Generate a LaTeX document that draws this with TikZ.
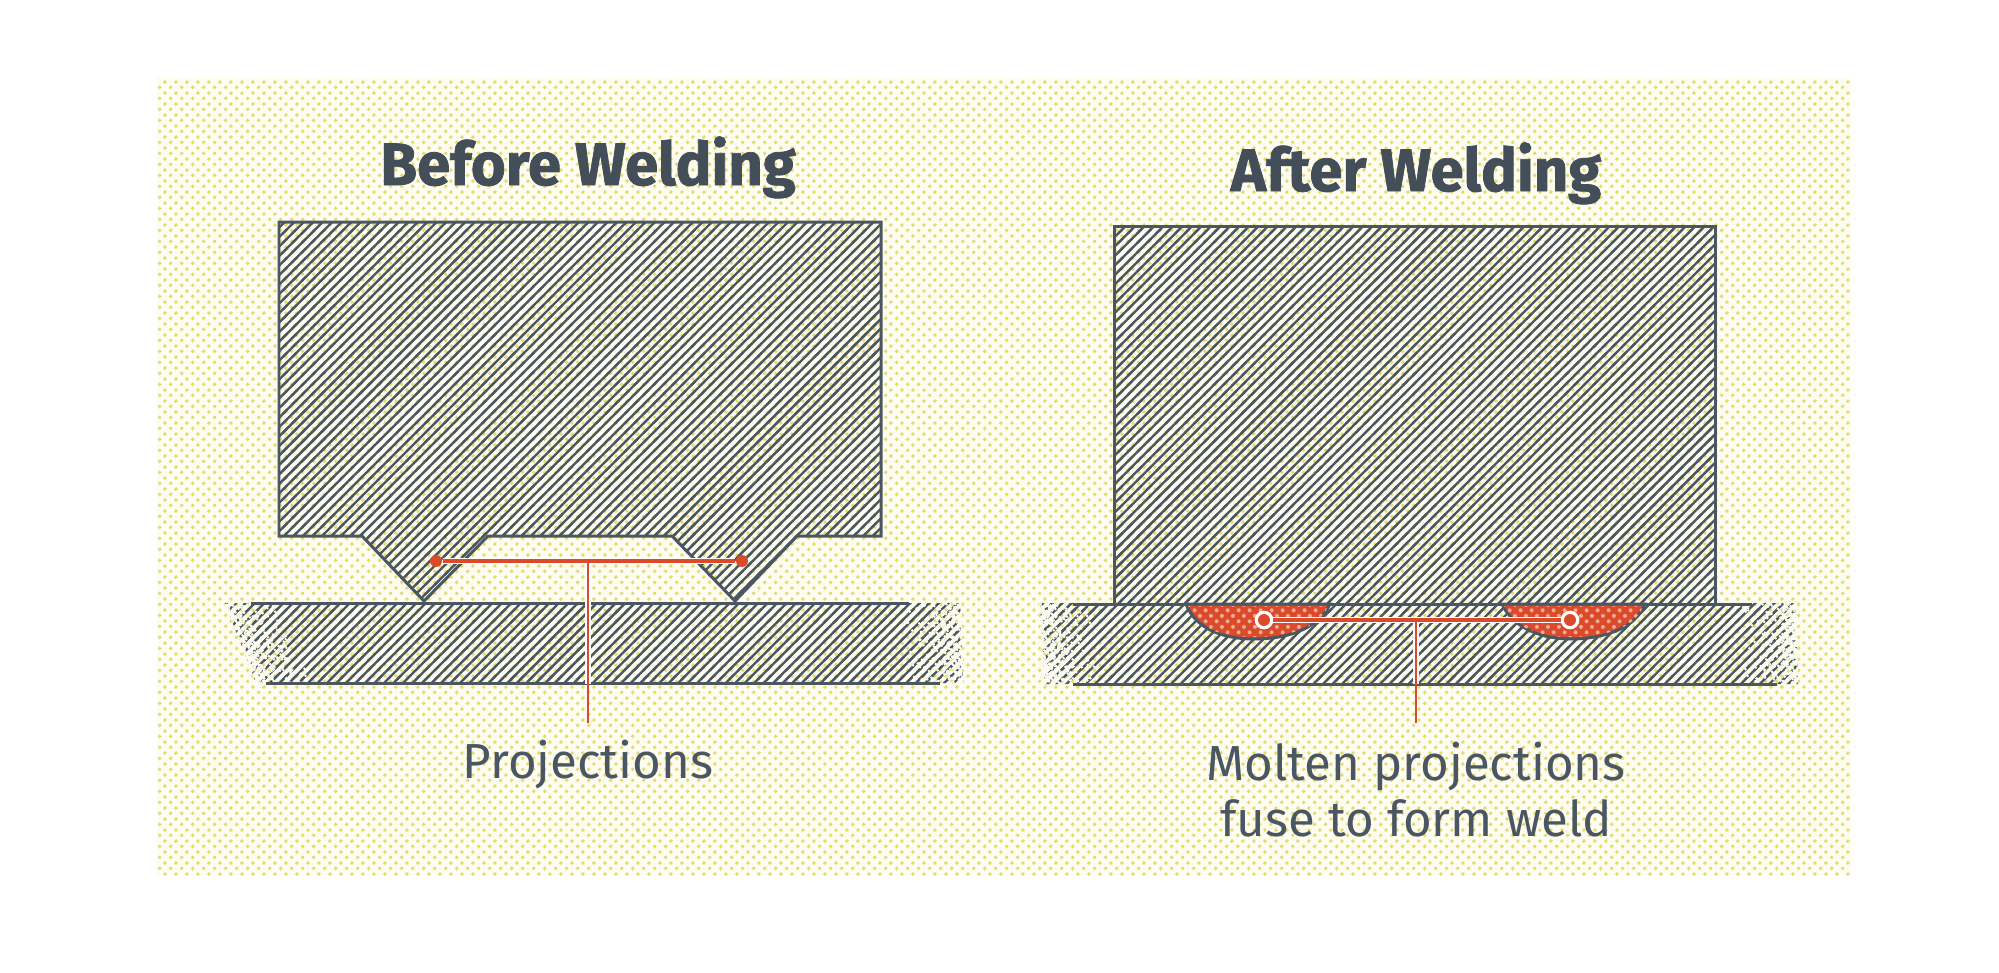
\documentclass[tikz,border=0pt]{standalone}
\usepackage{xcolor}
\usepackage{fontspec}
\setmainfont{Fira Sans}[BoldFeatures={FakeBold=1.3}]
\usetikzlibrary{patterns}
\definecolor{wdink}  {HTML}{4A5763}
\definecolor{wdpale} {HTML}{FDFCF0}
\definecolor{wdspot} {HTML}{E6D96E}
\definecolor{wdred}  {HTML}{DB4A2A}
\pgfdeclarepatternformonly{wdhatch}{\pgfqpoint{-1pt}{-1pt}}{\pgfqpoint{3.7pt}{3.7pt}}{\pgfqpoint{2.7pt}{2.7pt}}{
  \pgfsetlinewidth{0.66pt}
  \pgfpathmoveto{\pgfqpoint{-0.65pt}{-0.65pt}}
  \pgfpathlineto{\pgfqpoint{3.35pt}{3.35pt}}
  \pgfusepath{stroke}
}
\pgfdeclarepatternformonly{wddots}{\pgfqpoint{0pt}{0pt}}{\pgfqpoint{3.2pt}{3.2pt}}{\pgfqpoint{3.2pt}{3.2pt}}{
  \pgfpathcircle{\pgfqpoint{0.8pt}{0.8pt}}{0.6pt}
  \pgfpathcircle{\pgfqpoint{2.4pt}{2.4pt}}{0.6pt}
  \pgfusepath{fill}
}
\newcommand{\wdfade}[3]{% top x, bottom x, direction
  \foreach \i in {1,...,420}{
    \pgfmathsetmacro{\wdy}{603+80*rnd}
    \pgfmathsetmacro{\wdx}{#1+(#2-#1)*(\wdy-603)/80+#3*56*rnd*rnd}
    \fill[wdpale] (\wdx,\wdy) circle[radius=1.4];
  }
}
\begin{document}
\begin{tikzpicture}[
  x=0.01cm, y=-0.01cm,
  titletext/.style={font=\fontsize{17}{20}\selectfont\bfseries, text=wdink!90!black, anchor=base},
  labeltext/.style={font=\fontsize{14}{15.9}\selectfont, text=wdink, anchor=base},
  metal/.style={fill=wdpale, pattern=wdhatch, pattern color=wdink},
  edge/.style={draw=wdink, line width=0.85pt, line join=miter},
  halo/.style={draw=white, line width=1.9pt},
  hleader/.style={draw=wdred, line width=0.95pt},
  vleader/.style={draw=wdred, line width=0.72pt},
  soliddot/.style={circle, fill=wdred, inner sep=0pt, minimum size=3.4pt},
  ringdot/.style={circle, fill=wdred, draw=white, line width=0.9pt, inner sep=0pt, minimum size=4.4pt},
]
\useasboundingbox (0,0) rectangle (1999,972);
\fill[wdpale] (157,78) rectangle (1851,875);
\fill[pattern=wddots, pattern color=wdspot] (157,78) rectangle (1851,875);
\pgfmathsetseed{17}

% before welding
\fill[metal] (225,603) -- (960,603) -- (963,683) -- (256,683) -- cycle;
\wdfade{225}{256}{1}
\wdfade{960}{963}{-1}
\draw[edge] (251,603) -- (909,603);
\draw[edge] (266,683) -- (940,683);
\fill[metal] (279,222) -- (881,222) -- (881,536) -- (797,536) -- (735,600) -- (672,536)
  -- (488,536) -- (424,600) -- (362,536) -- (279,536) -- cycle;
\draw[edge] (279,222) -- (881,222) -- (881,536) -- (797,536) -- (735,601) -- (672,536)
  -- (488,536) -- (424,601) -- (362,536) -- (279,536) -- cycle;

% after welding
\fill[metal] (1040,603) -- (1795,603) -- (1798,684) -- (1045,684) -- cycle;
\wdfade{1040}{1045}{1}
\wdfade{1795}{1798}{-1}
\fill[metal] (1114,226) rectangle (1715,603);
\draw[edge] (1114,603) -- (1114,226) -- (1715,226) -- (1715,603);
\draw[edge] (1073,604) -- (1752,604);
\draw[edge] (1073,684) -- (1777,684);
\draw[edge, fill=wdred] (1186,604) .. controls (1196,630) and (1225,639) .. (1254,639)
  .. controls (1285,639) and (1318,630) .. (1330,604) -- cycle;
\draw[edge, fill=wdred] (1502,604) .. controls (1514,630) and (1545,639) .. (1571,639)
  .. controls (1600,639) and (1635,630) .. (1645,604) -- cycle;
\fill[pattern=wddots, pattern color=wdpale!55!wdred] (1188,606) .. controls (1196,630) and (1225,637) .. (1254,637)
  .. controls (1285,637) and (1318,630) .. (1328,606) -- cycle;
\fill[pattern=wddots, pattern color=wdpale!55!wdred] (1504,606) .. controls (1514,630) and (1545,637) .. (1571,637)
  .. controls (1600,637) and (1635,630) .. (1643,606) -- cycle;

\node[titletext] (titleA) at (588,185) {Before Welding};
\node[titletext] (titleB) at (1416,191) {After Welding};
\node[labeltext] (labelA) at (588,778) {Projections};
\node[labeltext, align=center] (labelB) at (1416,836) {Molten projections\\fuse to form weld};

\node[soliddot] (dotA) at (436,561) {};
\node[soliddot] (dotB) at (742,561) {};
\coordinate (forkA) at (588,561);
\coordinate (baseA) at (588,684);
\coordinate (tailA) at (588,723);
\draw[halo] (dotA) -- (dotB);
\draw[halo] (forkA) -- (baseA);
\draw[hleader] (dotA) -- (dotB);
\draw[vleader] (forkA) -- (tailA);

\node[ringdot] (dotC) at (1264,620) {};
\node[ringdot] (dotD) at (1570,620) {};
\coordinate (forkB) at (1416,620);
\coordinate (baseB) at (1416,684);
\coordinate (tailB) at (1416,723);
\draw[halo] (dotC) -- (dotD);
\draw[halo] (forkB) -- (baseB);
\draw[hleader] (dotC) -- (dotD);
\draw[vleader] (forkB) -- (tailB);
\end{tikzpicture}
\end{document}
